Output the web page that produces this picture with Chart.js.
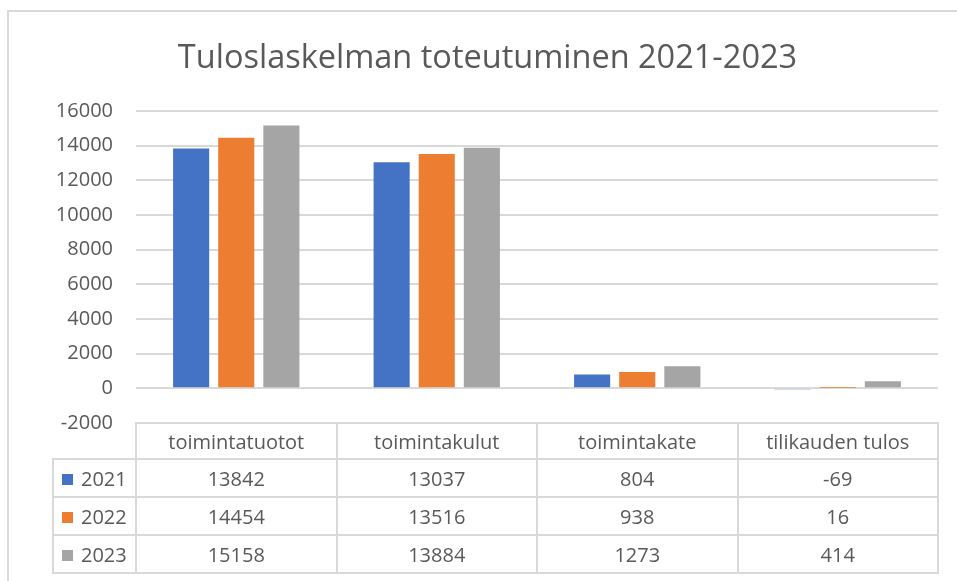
<!DOCTYPE html>
<html>
<head>
<meta charset="utf-8">
<script src="https://cdn.jsdelivr.net/npm/chart.js@4"></script>
<style>
body { margin: 0; background: #fff; }
#wrap { position: relative; width: 957px; height: 581px; overflow: hidden; }
#frame { position: absolute; left: 7px; top: 10px; width: 960px; height: 600px; border: 2px solid #d9d9d9; box-sizing: border-box; }
#chart { position: absolute; left: 0; top: 0; }
#dataTable { position: absolute; border-collapse: collapse; table-layout: fixed; font-family: "Open Sans"; font-size: 20px; color: #595959; }
#dataTable td { border: 2px solid #d9d9d9; text-align: center; padding: 0; white-space: nowrap; }
#dataTable td.corner { border-top: none; border-left: none; }
#dataTable td.year { text-align: left; padding-left: 8px; }
.key { display: inline-block; width: 11px; height: 11px; margin-right: 8px; vertical-align: 1px; }
</style>
</head>
<body>
<div id="wrap">
  <div id="frame"></div>
  <canvas id="chart" width="957" height="581"></canvas>
  <table id="dataTable"></table>
</div>
<script>
const categories = ['toimintatuotot', 'toimintakulut', 'toimintakate', 'tilikauden tulos'];
const years = ['2021', '2022', '2023'];
const values2021 = [13842, 13037, 804, -69];
const values2022 = [14454, 13516, 938, 16];
const values2023 = [15158, 13884, 1273, 414];
const seriesValues = [values2021, values2022, values2023];
const colors = ['#4472C4', '#ED7D31', '#A5A5A5'];
const yMin = -2000;
const yMax = 16000;
const yStep = 2000;

const textColor = '#595959';
const fontFamily = 'Open Sans';

const ctx = document.getElementById('chart').getContext('2d');
const chart = new Chart(ctx, {
    type: 'bar',
    data: {
        labels: categories,
        datasets: years.map((year, i) => ({
            label: year,
            data: seriesValues[i],
            backgroundColor: colors[i],
            categoryPercentage: 0.675,
            barPercentage: 0.8
        }))
    },
    options: {
        responsive: false,
        animation: false,
        layout: {
            padding: { left: 37, right: 19, top: 10, bottom: 150 }
        },
        plugins: {
            legend: { display: false },
            tooltip: { enabled: false },
            title: {
                display: true,
                text: 'Tuloslaskelman toteutuminen 2021-2023',
                color: textColor,
                font: { family: fontFamily, size: 32.5, weight: 'normal' },
                padding: { top: 29, bottom: 33 }
            }
        },
        scales: {
            x: {
                ticks: { display: false },
                grid: { display: false },
                border: { display: false }
            },
            y: {
                min: yMin,
                max: yMax,
                ticks: {
                    stepSize: yStep,
                    color: textColor,
                    padding: 23,
                    font: { family: fontFamily, size: 20 },
                    callback: (value) => String(value)
                },
                grid: { color: '#d9d9d9', lineWidth: 2, drawTicks: false },
                border: { display: false },
                afterFit(scale) {
                    scale.width = 99;
                }
            }
        }
    }
});

// data table under the plot, aligned to the category columns
function buildTable() {
    const area = chart.chartArea;
    const colW = (area.right - area.left) / categories.length;
    const table = document.getElementById('dataTable');
    const firstW = area.left - 53;
    let html = '<colgroup><col style="width:' + firstW + 'px">';
    categories.forEach(() => { html += '<col style="width:' + colW + 'px">'; });
    html += '</colgroup>';
    html += '<tr style="height:36px"><td class="corner"></td>';
    categories.forEach(c => { html += '<td>' + c + '</td>'; });
    html += '</tr>';
    years.forEach((year, i) => {
        html += '<tr style="height:38px"><td class="year"><span class="key" style="background:' + colors[i] + '"></span>' + year + '</td>';
        seriesValues[i].forEach(v => { html += '<td>' + v + '</td>'; });
        html += '</tr>';
    });
    table.innerHTML = html;
    table.style.width = (firstW + colW * categories.length) + 'px';
    table.style.left = (53 - 1) + 'px';
    table.style.top = (area.bottom - 1) + 'px';
}
buildTable();
</script>
</body>
</html>
